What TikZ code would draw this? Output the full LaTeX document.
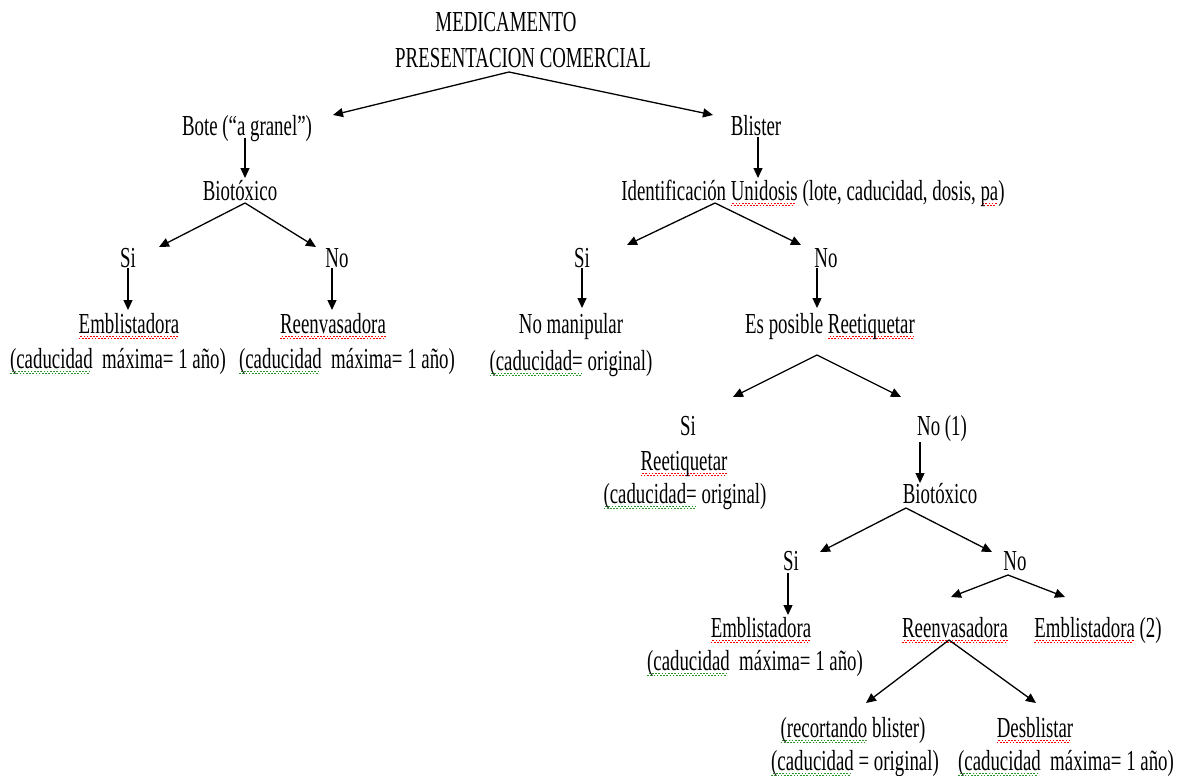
\documentclass[tikz,border=0pt]{standalone}
\usepackage{fontspec}
\setmainfont{Liberation Serif}[FakeStretch=0.65]
\usetikzlibrary{arrows.meta,calc}

\definecolor{verdeonda}{RGB}{40,150,40}
\newcommand\onda[2]{\setbox0=\hbox{#2}\rlap{\color{#1}\hbox to \wd0{\leaders\hbox{\rule[-2.8pt]{0.8pt}{0.55pt}\rule[-2.1pt]{0.8pt}{0.55pt}}\hfill}}\box0\relax}
\newcommand\ondarojo[1]{\onda{red}{#1}}
\newcommand\ondaverde[1]{\onda{verdeonda}{#1}}

\tikzset{
  rotulo/.style={anchor=base, inner sep=0pt, text height=0.68em, text depth=0.22em, font=\fontsize{14.5}{17}\selectfont},
  flecha/.style={-{Triangle[length=5pt,width=4.5pt]}, line width=0.65pt}
}

\begin{document}
\begin{tikzpicture}[x=0.5pt, y=-0.5pt]
\useasboundingbox (0,0) rectangle (1183,776);

\node[rotulo] (med) at (506,32) {MEDICAMENTO};
\node[rotulo] (pres) at (523,67) {PRESENTACION COMERCIAL};

\node[rotulo] (bote) at (247,135) {Bote (“a granel”)};
\node[rotulo] (bio1) at (240,200) {Biotóxico};
\node[rotulo] (si1) at (128,267) {Si};
\node[rotulo] (no1) at (337,267) {No};
\node[rotulo] (emb1) at (129,333) {\ondarojo{Emblistadora}};
\node[rotulo] (cad1) at (118,368) {\ondaverde{(caducidad}\ \ máxima= 1 año)};
\node[rotulo] (reenv1) at (333,333) {\ondarojo{Reenvasadora}};
\node[rotulo] (cad2) at (347,368) {\ondaverde{(caducidad}\ \ máxima= 1 año)};

\node[rotulo] (blister) at (756,135) {Blister};
\node[rotulo] (ident) at (813,200) {Identificación \ondarojo{Unidosis} (lote, caducidad, dosis, \ondarojo{pa})};
\node[rotulo] (si2) at (582,267) {Si};
\node[rotulo] (no2) at (826,267) {No};
\node[rotulo] (noman) at (571,333) {No manipular};
\node[rotulo] (cad3) at (571,370) {\ondaverde{(caducidad=} original)};
\node[rotulo] (espos) at (830,333) {Es posible \ondarojo{Reetiquetar}};

\node[rotulo] (si3) at (688,435) {Si};
\node[rotulo] (reet) at (684,470) {\ondarojo{Reetiquetar}};
\node[rotulo] (cad4) at (685,503) {\ondaverde{(caducidad=} original)};
\node[rotulo] (no3) at (942,435) {No (1)};
\node[rotulo] (bio2) at (940,503) {Biotóxico};
\node[rotulo] (si4) at (791,570) {Si};
\node[rotulo] (no4) at (1015,570) {No};
\node[rotulo] (emb2) at (761,637) {\ondarojo{Emblistadora}};
\node[rotulo] (cad5) at (755,670) {\ondaverde{(caducidad}\ \ máxima= 1 año)};
\node[rotulo] (reenv2) at (955,637) {\ondarojo{Reenvasadora}};
\node[rotulo] (emb3) at (1098,637) {\ondarojo{Emblistadora} (2)};
\node[rotulo] (recort) at (853,737) {\ondaverde{(recortando} blister)};
\node[rotulo] (cad6) at (855,770) {\ondaverde{(caducidad} = original)};
\node[rotulo] (desb) at (1035,737) {\ondarojo{Desblistar}};
\node[rotulo] (cad7) at (1066,770) {\ondaverde{(caducidad}\ \ máxima= 1 año)};

\draw[flecha] ($(pres.base)+(-14,5)$) -- ($(bote.base)+(86,-20)$);
\draw[flecha] ($(pres.base)+(-14,5)$) -- ($(blister.base)+(-43,-20)$);

\draw[flecha] ($(bote.base)+(-2,3)$) -- ($(bio1.base)+(5,-22)$);
\draw[flecha] ($(bio1.base)+(5,3)$) -- ($(si1.base)+(31,-20)$);
\draw[flecha] ($(bio1.base)+(5,3)$) -- ($(no1.base)+(-21,-20)$);
\draw[flecha] ($(si1.base)+(0,1)$) -- ($(emb1.base)+(-1,-23)$);
\draw[flecha] ($(no1.base)+(-5,1)$) -- ($(reenv1.base)+(-1,-23)$);

\draw[flecha] ($(blister.base)+(2,2)$) -- ($(ident.base)+(-55,-22)$);
\draw[flecha] ($(ident.base)+(-98,3)$) -- ($(si2.base)+(45,-22)$);
\draw[flecha] ($(ident.base)+(-98,3)$) -- ($(no2.base)+(-25,-22)$);
\draw[flecha] ($(si2.base)+(0,1)$) -- ($(noman.base)+(11,-25)$);
\draw[flecha] ($(no2.base)+(-9,1)$) -- ($(espos.base)+(-13,-25)$);

\draw[flecha] ($(espos.base)+(-13,22)$) -- ($(si3.base)+(45,-38)$);
\draw[flecha] ($(espos.base)+(-13,22)$) -- ($(no3.base)+(-41,-38)$);
\draw[flecha] ($(no3.base)+(-22,7)$) -- ($(bio2.base)+(-20,-20)$);
\draw[flecha] ($(bio2.base)+(-34,5)$) -- ($(si4.base)+(29,-18)$);
\draw[flecha] ($(bio2.base)+(-34,5)$) -- ($(no4.base)+(-23,-18)$);
\draw[flecha] ($(si4.base)+(-3,3)$) -- ($(emb2.base)+(27,-22)$);
\draw[flecha] ($(no4.base)+(-7,5)$) -- ($(reenv2.base)+(-4,-40)$);
\draw[flecha] ($(no4.base)+(-7,5)$) -- ($(emb3.base)+(-33,-40)$);
\draw[flecha] ($(reenv2.base)+(-6,3)$) -- ($(recort.base)+(13,-34)$);
\draw[flecha] ($(reenv2.base)+(-6,3)$) -- ($(desb.base)+(1,-34)$);

\end{tikzpicture}
\end{document}
